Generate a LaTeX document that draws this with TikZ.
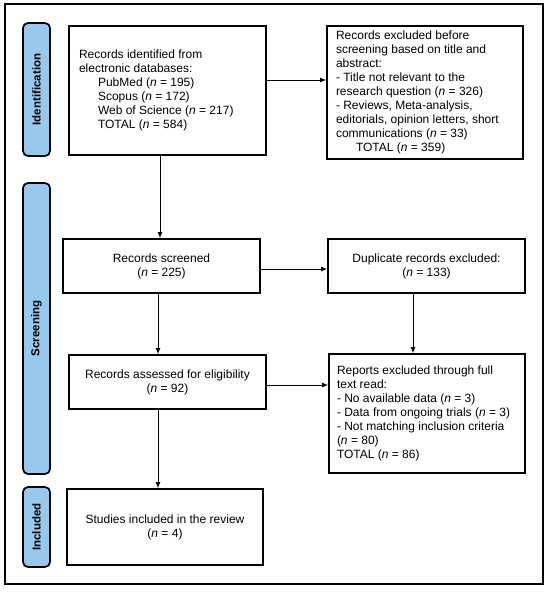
\documentclass[tikz,border=0pt]{standalone}
\usepackage{fontspec}
\setmainfont{Liberation Sans}
\usetikzlibrary{arrows.meta}
\definecolor{tabblue}{RGB}{152,200,236}
\tikzset{
  box/.style={draw=black, line width=1.7pt, fill=white, minimum width=#1, inner xsep=0pt, inner ysep=0pt, font=\fontsize{12}{14}\selectfont},
  tab/.style={draw=black, line width=1.7pt, fill=tabblue, rounded corners=5pt, minimum height=27pt, inner sep=0pt, font=\bfseries\fontsize{11.5}{12}\selectfont},
  arr/.style={line width=0.9pt, -{Latex[length=6pt,width=5pt]}},
}
\begin{document}
\begin{tikzpicture}[x=1pt,y=-1pt]
\useasboundingbox (0,0) rectangle (550,592);
\draw[line width=1.3pt] (5,4) rectangle (543,584);
% tabs
\node[tab, minimum width=133pt, rotate=90] (tid) at (36.5,89.5) {Identification};
\node[tab, minimum width=291pt, rotate=90] (tsc) at (36.5,328.5) {Screening};
\node[tab, minimum width=80pt, rotate=90] (tin) at (36.5,527) {Included};
% boxes
\node[box=197pt, minimum height=129pt] (b1) at (167.5,90.5) {\begin{minipage}{177pt}\raggedright
Records identified from\\ electronic databases:\\
\hspace*{19pt}PubMed (\textit{n} = 195)\\
\hspace*{19pt}Scopus (\textit{n} = 172)\\
\hspace*{19pt}Web of Science (\textit{n} = 217)\\
\hspace*{19pt}TOTAL (\textit{n} = 584)\end{minipage}};
\node[box=196pt, minimum height=133pt] (b2) at (425,92.5) {\begin{minipage}{178pt}\raggedright
Records excluded before\\ screening based on title and\\ abstract:\\
- Title not relevant to the\\ research question (\textit{n} = 326)\\
- Reviews, Meta-analysis,\\ editorials, opinion letters, short\\ communications (\textit{n} = 33)\\
\hspace*{20pt}TOTAL (\textit{n} = 359)\end{minipage}};
\node[box=197pt, minimum height=54pt, align=center] (b3) at (161.5,266) {Records screened\\(\textit{n} = 225)};
\node[box=197pt, minimum height=54pt, align=center] (b4) at (426.5,266) {Duplicate records excluded:\\(\textit{n} = 133)};
\node[box=197pt, minimum height=54pt, align=center] (b5) at (167.5,382) {Records assessed for eligibility\\(\textit{n} = 92)};
\node[box=196pt, minimum height=119pt] (b6) at (427,413.5) {\begin{minipage}{180pt}\raggedright
Reports excluded through full\\ text read:\\
- No available data (\textit{n} = 3)\\
- Data from ongoing trials (\textit{n} = 3)\\
- Not matching inclusion criteria\\ (\textit{n} = 80)\\
TOTAL (\textit{n} = 86)\\[5pt]\end{minipage}};
\node[box=196pt, minimum height=76pt, align=center] (b7) at (165,527) {Studies included in the review\\(\textit{n} = 4)};
% arrows
\draw[arr] (b1.east |- 0,80) -- (b2.west |- 0,80);
\draw[arr] (b1.south -| 160,0) -- (b3.north -| 160,0);
\draw[arr] (b3.east |- 0,269) -- (b4.west |- 0,269);
\draw[arr] (b4.south -| 413,0) -- (b6.north -| 413,0);
\draw[arr] (b3.south -| 158,0) -- (b5.north -| 158,0);
\draw[arr] (b5.east |- 0,385) -- (b6.west |- 0,385);
\draw[arr] (b5.south -| 158,0) -- (b7.north -| 158,0);
\end{tikzpicture}
\end{document}
